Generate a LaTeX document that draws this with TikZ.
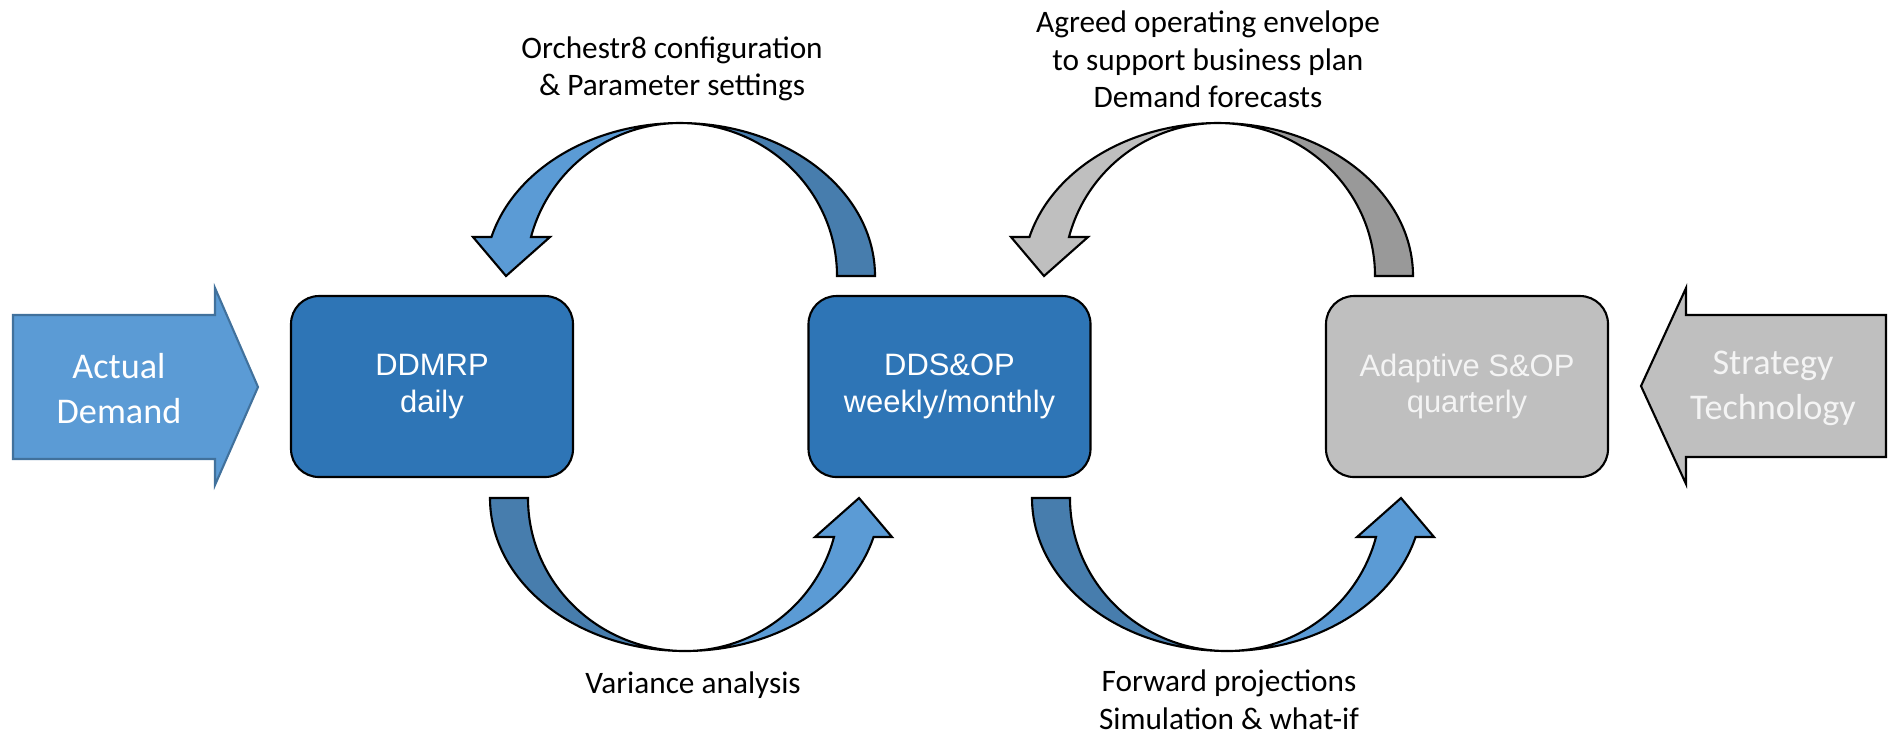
\documentclass[tikz,border=0pt]{standalone}
\usepackage{fontspec}
\setmainfont{Carlito}
\newfontfamily\boxfont{Liberation Sans}

\definecolor{boxblue}{HTML}{2E75B6}
\definecolor{frontblue}{HTML}{5B9BD5}
\definecolor{backblue}{HTML}{477DAD}
\definecolor{demandedge}{HTML}{41719C}
\definecolor{frontgray}{HTML}{BFBFBF}
\definecolor{backgray}{HTML}{999999}
\definecolor{palewhite}{HTML}{F4F4F4}

% Half-turn block arrow: back half (tail) and front half (head) in two shades.
% #1 origin (tail base, below the apex), #2 rotation, #3 back colour, #4 front colour
\newcommand\loopshape[4]{%
  \begin{scope}[shift={#1},rotate=#2]
    \draw[outline,fill=#3] (195,0)
      arc[start angle=0,end angle=90,x radius=19.5mm,y radius=15.3mm]
      arc[start angle=90,end angle=0,x radius=15.7mm,y radius=15.3mm] -- cycle;
    \draw[outline,fill=#4] (0,153)
      arc[start angle=90,end angle=165.23,x radius=19.5mm,y radius=15.3mm]
      -- (-207,39) -- (-174,0) -- (-130,39) -- (-149,39)
      arc[start angle=165.23,end angle=90,x radius=15.4mm,y radius=15.3mm] -- cycle;
  \end{scope}}

\begin{document}
\begin{tikzpicture}[x=0.1mm,y=0.1mm,
  outline/.style={draw=black,line width=0.6pt,line join=miter},
  phasebox/.style={outline,rounded corners=2.8mm,minimum width=28.2mm,
    minimum height=18.1mm,align=center,text=white,inner sep=0pt,
    font=\boxfont\fontsize{8.8}{10.5}\selectfont},
  notetext/.style={align=center,inner sep=0pt,font=\fontsize{8.9}{10.7}\selectfont},
  inputtext/.style={align=center,inner sep=0pt,font=\fontsize{10.3}{12.8}\selectfont}]

\useasboundingbox (0,0) rectangle (1892,-734);

% planning levels
\node[phasebox,fill=boxblue] (ddmrp) at (432,-386.5) {DDMRP\\daily};
\node[phasebox,fill=boxblue] (ddsop) at (949.5,-386.5) {DDS\&OP\\weekly/monthly};
\node[phasebox,fill=frontgray,text=palewhite] (asop) at (1467,-386.5) {Adaptive S\&OP\\quarterly};

% external inputs
\draw[fill=frontblue,draw=demandedge,line width=0.6pt,line join=miter]
  (13,-315) -- (215,-315) -- (215,-288) -- (258,-387) -- (215,-485)
  -- (215,-459) -- (13,-459) -- cycle;
\node[inputtext,text=white] (demand) at (119,-389) {Actual\\Demand};

\draw[outline,fill=frontgray]
  (1886,-315) -- (1686,-315) -- (1686,-288) -- (1641,-386) -- (1686,-484)
  -- (1686,-457) -- (1886,-457) -- cycle;
\node[inputtext,text=palewhite] (strategy) at (1773,-388) {Strategy\\Technology};

% feedback loops between the levels
\loopshape{(680,-276)}{0}{backblue}{frontblue}
\loopshape{(1218,-276)}{0}{backgray}{frontgray}
\loopshape{(685,-498)}{180}{backblue}{frontblue}
\loopshape{(1227,-498)}{180}{backblue}{frontblue}

% loop annotations
\node[notetext] (cfg) at (672,-69) {Orchestr8 configuration\\\& Parameter settings};
\node[notetext] (env) at (1208,-59.5) {Agreed operating envelope\\to support business plan\\Demand forecasts};
\node[notetext] (var) at (693,-685) {Variance analysis};
\node[notetext] (fwd) at (1229,-700) {Forward projections\\Simulation \& what-if};

\end{tikzpicture}
\end{document}
